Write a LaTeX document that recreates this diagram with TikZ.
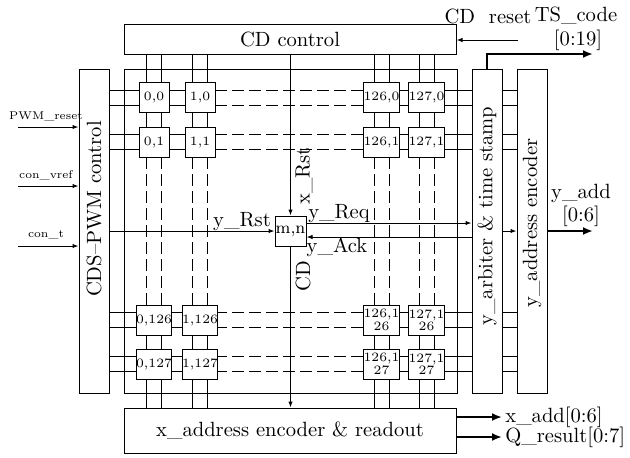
\documentclass[tikz,border=0pt]{standalone}
\usetikzlibrary{positioning}
\usetikzlibrary{calc}
\usetikzlibrary{arrows.meta}

\begin{document}
\begin{tikzpicture}[x=0.5pt,y=-0.5pt,
	blk node/.style={shape=rectangle,draw=black,line width=0.5pt,inner sep=0},
	cell node/.style={shape=rectangle,draw=black,line width=0.5pt,fill=white,inner sep=0,minimum size=15pt,font=\fontsize{6.4}{6.2}\selectfont,align=center},
	lbl/.style={font=\fontsize{10.3}{11.5}\selectfont,inner sep=0,align=center},
	sml/.style={font=\fontsize{5.6}{7}\selectfont,inner sep=0},
	sig/.style={line width=0.5pt,-{Latex[length=3pt,width=2.2pt]}},
	bus/.style={line width=1.2pt,-{Latex[length=5pt,width=4pt]}},
	wire/.style={line width=0.5pt},
	gap/.style={line width=0.5pt,dash pattern=on 6pt off 2.5pt}, ]
		\useasboundingbox (0,0) rectangle (630,457);
		%blocks
		\node[blk node,minimum width=166pt,minimum height=15pt] (cdc) at (290,39){};
		\node[lbl] (cdct) at (cdc){CD control};
		\node[blk node,minimum width=166.5pt,minimum height=162pt] (arr) at (290.5,231){};
		\node[blk node,minimum width=15pt,minimum height=162pt] (cds) at (94,231){};
		\node[blk node,minimum width=15pt,minimum height=162pt] (yarb) at (487,231){};
		\node[blk node,minimum width=15pt,minimum height=162pt] (yenc) at (532,231){};
		\node[blk node,minimum width=166pt,minimum height=22.5pt] (xenc) at (290,430.5){};
		\node[lbl] (xenct) at (xenc){x\_address encoder \& readout};
		\node[lbl,rotate=90] (cdst) at (94,209){CDS--PWM control};
		\node[lbl,rotate=90] (yarbt) at (487,216){y\_arbiter \& time stamp};
		\node[lbl,rotate=90] (yenct) at (532,223){y\_address encoder};
		
		%column and row lines
		\foreach \x in {154,200,381.5,426.5}
		{
			\foreach \d in {-1,1}
			{
				\draw[wire] (\x+7.5*\d,0 |- cdc.south) -- (\x+7.5*\d,157);
				\draw[gap] (\x+7.5*\d,157) -- (\x+7.5*\d,305);
				\draw[wire] (\x+7.5*\d,305) -- (\x+7.5*\d,0 |- xenc.north);
			}
		}
		\foreach \y in {97.5,142,320,364}
		{
			\foreach \d in {-1,1}
			{
				\draw[wire] (cds.east |- 0,\y+7.5*\d) -- (215,\y+7.5*\d);
				\draw[gap] (215,\y+7.5*\d) -- (366,\y+7.5*\d);
				\draw[wire] (366,\y+7.5*\d) -- (yarb.west |- 0,\y+7.5*\d);
				\draw[wire] (yarb.east |- 0,\y+7.5*\d) -- (yenc.west |- 0,\y+7.5*\d);
			}
		}
		
		%pixel cells
		\foreach \x/\y/\n/\t in {154/97.5/11/{0,0},200/97.5/21/{1,0},381.5/97.5/31/{126,0},426.5/97.5/41/{127,0},
			154/142/12/{0,1},200/142/22/{1,1},381.5/142/32/{126,1},426.5/142/42/{127,1},
			154/320/13/{0,126},200/320/23/{1,126},381.5/320/33/{126,1\\26},426.5/320/43/{127,1\\26},
			154/364/14/{0,127},200/364/24/{1,127},381.5/364/34/{126,1\\27},426.5/364/44/{127,1\\27}}
		{
			\node[cell node] (c\n) at (\x,\y){\t};
		}
		\node[cell node,minimum width=15.5pt,font=\fontsize{8.4}{9}\selectfont] (mn) at (290.5,231){m,n};
		
		%x_Rst, y_Rst, y_Req, y_Ack
		\draw[sig] (cdc.south -| mn.north) -- (mn.north);
		\draw[sig] (mn.south) -- (mn.south |- xenc.north);
		\draw[sig] (cds.east |- mn.west) -- (mn.west);
		\coordinate (req) at ($(mn.east)+(0,-8)$);
		\coordinate (ack) at ($(mn.east)+(0,6)$);
		\draw[sig] (req) -- (req -| yarb.west);
		\draw[sig] (ack -| yarb.west) -- (ack);
		\draw[sig] (yarb.east |- mn) -- (yenc.west |- mn);
		\node[lbl] (yrstl) at (242,222){y\_Rst};
		\node[lbl] (yreql) at (339,214){y\_Req};
		\node[lbl] (yackl) at (337,247){y\_Ack};
		\node[lbl,rotate=90] (xrstl) at (304,176){x\_Rst};
		\node[lbl,rotate=90] (cdl) at (303,276){CD};
		
		%inputs
		\foreach \y/\n/\t in {127/pwm/PWM\_reset,186/vref/con\_vref,246/cont/con\_t}
		{
			\coordinate (\n) at (18,\y);
			\draw[sig] (\n) -- (\n -| cds.west);
			\node[sml] (\n l) at (46,\y-11){\t};
		}
		\coordinate (cdrst) at (518,40);
		\draw[sig] (cdrst) -- (cdrst -| cdc.east);
		\node[lbl] (cdrstl) at (488,16){CD\ \ reset};
		
		%outputs
		\coordinate (ts) at (593,54);
		\draw[bus] (yarb.north) |- (ts);
		\node[lbl] (tsl) at (576,16){TS\_code};
		\node[lbl] (tsb) at (578,40){[0:19]};
		\coordinate (yadd) at (593,231);
		\draw[bus] (yadd -| yenc.east) -- (yadd);
		\node[lbl] (yaddl) at (581,205){y\_add\\{}[0:6]};
		\coordinate (xadd) at (502,417);
		\coordinate (qres) at (502,437);
		\draw[bus] (xadd -| xenc.east) -- (xadd);
		\draw[bus] (qres -| xenc.east) -- (qres);
		\node[lbl,anchor=west] (xaddl) at (505,417){x\_add[0:6]};
		\node[lbl,anchor=west] (qresl) at (505,437){Q\_result[0:7]};
		
\end{tikzpicture}
\end{document}
